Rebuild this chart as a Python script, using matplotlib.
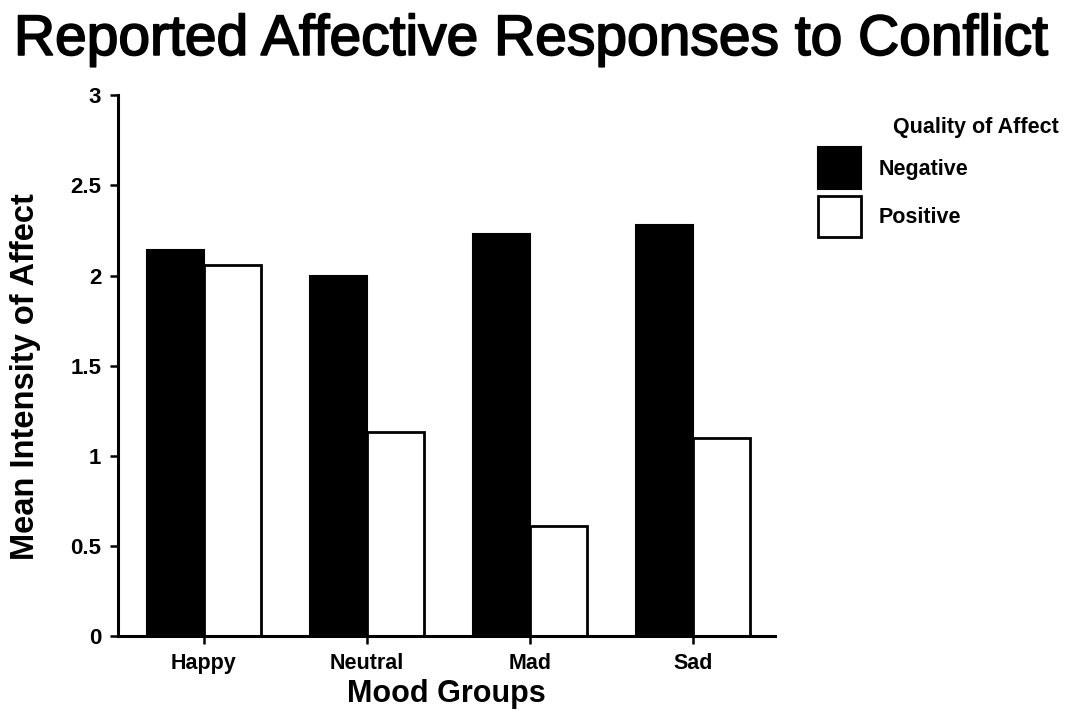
import numpy as np
import matplotlib.pyplot as plt
import matplotlib.patheffects as pe
from matplotlib.patches import Patch

plt.rcParams['font.family'] = ['Liberation Sans', 'DejaVu Sans']

groups = ['Happy', 'Neutral', 'Mad', 'Sad']
negative = [2.14, 2.00, 2.23, 2.28]
positive = [2.06, 1.13, 0.61, 1.10]
y_ticks = [0, 0.5, 1, 1.5, 2, 2.5, 3]
y_tick_labels = ['0', '0.5', '1', '1.5', '2', '2.5', '3']

fig = plt.figure(figsize=(10.72, 7.22), dpi=100)
ax = fig.add_axes([0.110, 0.119, 0.613, 0.749])

x = np.arange(len(groups))
w = 0.35
ax.bar(x - w / 2, negative, w, color='black', edgecolor='black', linewidth=1.5, label='Negative')
ax.bar(x + w / 2, positive, w, color='white', edgecolor='black', linewidth=2.0, label='Positive')

ax.set_xlim(-0.528, 3.503)
ax.set_ylim(0, 3)
ax.set_yticks(y_ticks)
ax.set_yticklabels(y_tick_labels, fontsize=16, fontweight='bold')
ax.set_xticks(x)
ax.set_xticklabels(groups, fontsize=15.5, fontweight='bold')
ax.tick_params(axis='both', width=1.8, length=6, pad=6)

for s in ['top', 'right']:
    ax.spines[s].set_visible(False)
for s in ['left', 'bottom']:
    ax.spines[s].set_linewidth(2.2)

ax.set_ylabel('Mean Intensity of Affect', fontsize=23.5, fontweight='bold')
ax.yaxis.set_label_coords(-0.117, 0.48)
ax.set_xlabel('Mood Groups', fontsize=22, fontweight='bold', labelpad=4)

fig.text(0.013, 0.924, 'Reported Affective Responses to Conflict', fontsize=41,
         va='baseline', ha='left',
         path_effects=[pe.withStroke(linewidth=1.3, foreground='black')])

# legend block
fig.text(0.833, 0.823, 'Quality of Affect', fontsize=15.5, fontweight='bold', va='center')
handles = [Patch(facecolor='black', edgecolor='black', linewidth=1.5, label='Negative'),
           Patch(facecolor='white', edgecolor='black', linewidth=2.0, label='Positive')]
leg = fig.legend(handles=handles, loc='upper left', bbox_to_anchor=(0.763, 0.796),
                 frameon=False, prop={'size': 15.5, 'weight': 'bold'},
                 handlelength=2.0, handleheight=2.6, handletextpad=0.8,
                 labelspacing=0.32, borderaxespad=0, borderpad=0)

fig.savefig('out.png', dpi=100)
